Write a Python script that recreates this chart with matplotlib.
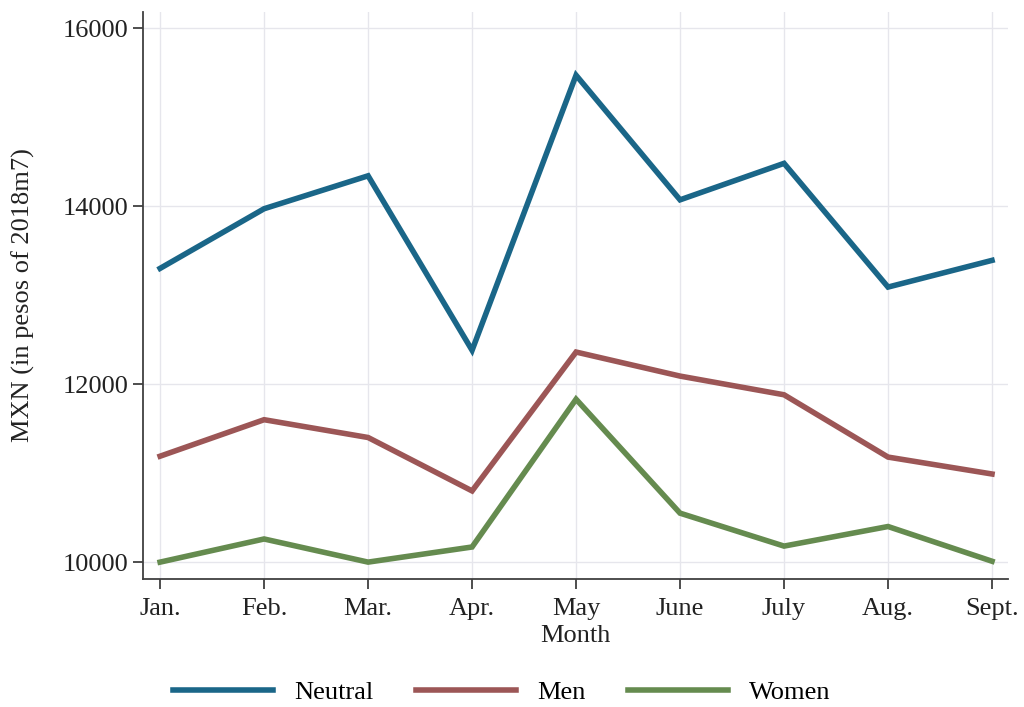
import matplotlib
matplotlib.use("Agg")
import matplotlib.pyplot as plt

months = ["Jan.", "Feb.", "Mar.", "Apr.", "May", "June", "July", "Aug.", "Sept."]
neutral = [13300, 13970, 14340, 12380, 15470, 14070, 14480, 13090, 13390]
men = [11190, 11600, 11400, 10800, 12360, 12090, 11880, 11180, 10990]
women = [10000, 10260, 10000, 10170, 11830, 10550, 10180, 10400, 10010]
yticks = [10000, 12000, 14000, 16000]

plt.rcParams["font.family"] = ["Liberation Serif", "DejaVu Serif"]
plt.rcParams["font.size"] = 19

fig = plt.figure(figsize=(10.24, 7.07), dpi=100)
ax = fig.add_axes([0.1396, 0.181, 0.8444, 0.802])

x = range(len(months))
ax.plot(x, neutral, color="#1a6688", lw=4, label="Neutral", solid_joinstyle="miter")
ax.plot(x, men, color="#9c5656", lw=4, label="Men", solid_joinstyle="miter")
ax.plot(x, women, color="#658b4f", lw=4, label="Women", solid_joinstyle="miter")

ax.set_xlim(-0.165, 8.15)
ax.set_ylim(9810, 16180)
ax.set_xticks(list(x))
ax.set_xticklabels(months)
ax.set_yticks(yticks)
ax.grid(True, color="#e6e6ec", lw=1)
ax.set_axisbelow(True)
for s in ["top", "right"]:
    ax.spines[s].set_visible(False)
for s in ["left", "bottom"]:
    ax.spines[s].set_color("#404040")
    ax.spines[s].set_linewidth(1.3)
ax.tick_params(direction="out", length=7, width=1.3, color="#404040", labelcolor="#222222")
ax.tick_params(axis="x", pad=7)
ax.set_xlabel("Month", color="#222222", labelpad=3)
ax.set_ylabel("MXN (in pesos of 2018m7)", color="#222222", labelpad=20)

fig.legend(loc="lower center", bbox_to_anchor=(0.49, -0.03), ncol=3, frameon=False,
           handlelength=3.8, columnspacing=1.6, handletextpad=0.8)

fig.savefig("out.png", dpi=100)
